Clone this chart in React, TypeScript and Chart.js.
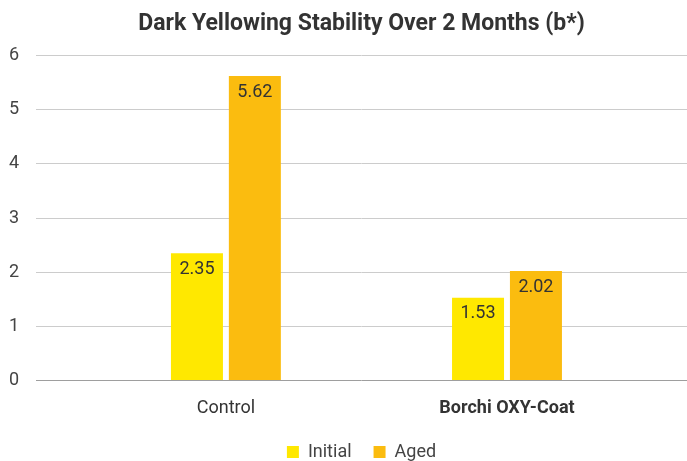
import React, { useEffect, useRef } from 'react';
import { Chart, registerables } from 'chart.js';

Chart.register(...registerables);

const titleText = 'Dark Yellowing Stability Over 2 Months (b*)';
const categories = ['Control', 'Borchi OXY-Coat'];
const seriesNames = ['Initial', 'Aged'];
const initialValues = [2.35, 1.53];
const agedValues = [5.62, 2.02];
const yTickValues = [0, 1, 2, 3, 4, 5, 6];

const FONT = 'Roboto';

const dataLabelPlugin = {
  id: 'dataLabelPlugin',
  afterDatasetsDraw(chart: any) {
    const ctx = chart.ctx;
    ctx.save();
    ctx.font = `18px ${FONT}`;
    ctx.fillStyle = '#333333';
    ctx.textAlign = 'center';
    ctx.textBaseline = 'middle';
    chart.data.datasets.forEach((ds: any, i: number) => {
      const meta = chart.getDatasetMeta(i);
      meta.data.forEach((el: any, j: number) => {
        const v = ds.data[j];
        ctx.fillText(Number(v).toFixed(2), el.x, el.y + 16.3);
      });
    });
    ctx.restore();
  },
};

export default function App() {
  const ref = useRef<HTMLCanvasElement | null>(null);

  useEffect(() => {
    if (!ref.current) return;
    const chart = new Chart(ref.current, {
      type: 'bar',
      data: {
        labels: categories,
        datasets: [
          {
            label: seriesNames[0],
            data: initialValues,
            backgroundColor: '#FFE800',
            borderWidth: 0,
          },
          {
            label: seriesNames[1],
            data: agedValues,
            backgroundColor: '#FBBC0F',
            borderWidth: 0,
          },
        ],
      },
      plugins: [dataLabelPlugin],
      options: {
        animation: false,
        responsive: false,
        devicePixelRatio: 1,
        layout: { padding: 0 },
        datasets: {
          bar: {
            categoryPercentage: 0.412,
            barPercentage: 0.898,
          },
        },
        plugins: {
          tooltip: { enabled: false },
          title: {
            display: true,
            text: titleText,
            fullSize: false,
            color: '#333333',
            font: { family: FONT, size: 23, weight: 'bold' },
            padding: { top: 10.5, bottom: 17.4 },
          },
          legend: {
            display: true,
            position: 'bottom',
            fullSize: false,
            labels: {
              boxWidth: 12,
              boxHeight: 12,
              padding: 22,
              color: '#444444',
              font: { family: FONT, size: 18 },
            },
          },
        },
        scales: {
          x: {
            type: 'category',
            offset: true,
            grid: { display: false, drawTicks: false },
            border: { display: false },
            ticks: {
              padding: 17,
              color: '#333333',
              font: (c: any) => ({ family: FONT, size: 18, weight: c.index === 1 ? 'bold' : 'normal' }),
            },
            afterBuildTicks: (scale: any) => {
              scale._startValue = -0.6756;
              scale._valueRange = 2.316;
            },
            afterFit: (scale: any) => {
              scale.height = 40.5;
            },
          },
          y: {
            min: 0,
            max: 6,
            grid: {
              drawTicks: false,
              color: (c: any) => (c.tick && c.tick.value === 0 ? '#9E9E9E' : '#CCCCCC'),
            },
            border: { display: false },
            ticks: {
              padding: 17,
              color: '#444444',
              font: { family: FONT, size: 18 },
            },
            afterBuildTicks: (scale: any) => {
              scale.ticks = yTickValues.map((v) => ({ value: v }));
            },
            afterFit: (scale: any) => {
              scale.width = 36;
            },
          },
        },
      },
    });
    return () => chart.destroy();
  }, []);

  return (
    <div style={{ position: 'fixed', left: 0, top: 0, width: 687, height: 461, overflow: 'hidden', background: '#fff' }}>
      <canvas ref={ref} width={687} height={471} style={{ display: 'block' }} />
    </div>
  );
}
